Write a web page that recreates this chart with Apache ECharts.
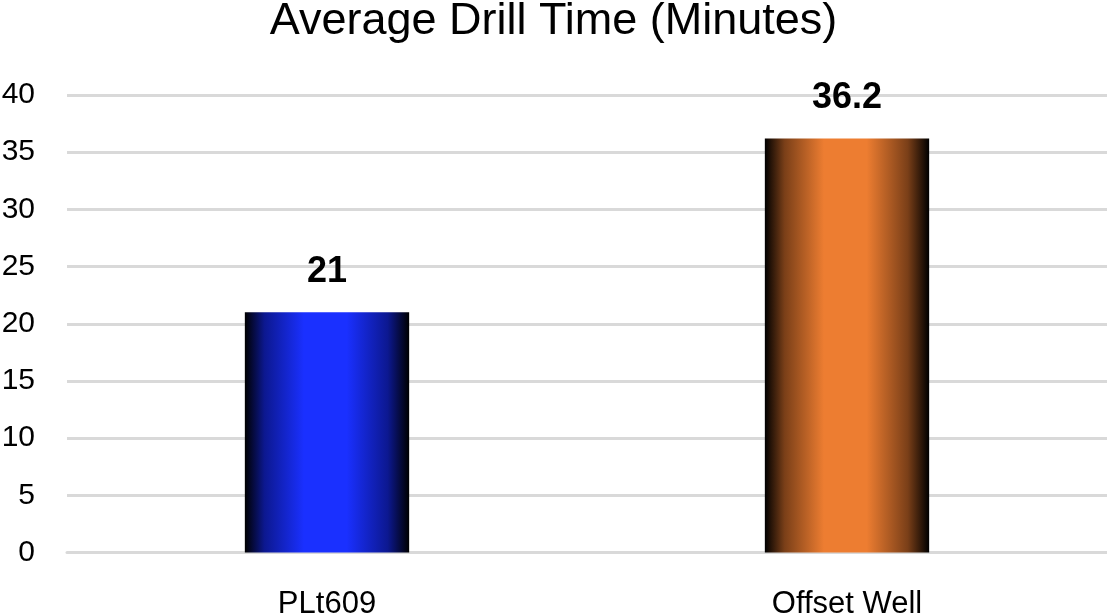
<!DOCTYPE html>
<html><head><meta charset="utf-8">
<script src="https://cdn.jsdelivr.net/npm/echarts@6/dist/echarts.min.js"></script>
<style>html,body{margin:0;padding:0;background:#fff}#c{width:1107px;height:615px}</style>
</head><body><div id="c"></div>
<script>
const categories = ['PLt609', 'Offset Well'];
const values = [21, 36.2];
const barColors = ['#1a30ff', '#ed7d31'];
const barMidColors = ['#0c1890', '#7a3f18'];
const yTicks = [0, 5, 10, 15, 20, 25, 30, 35, 40];

function grad(c, m) {
  return new echarts.graphic.LinearGradient(0, 0, 1, 0, [
    {offset: 0, color: '#000000'},
    {offset: 0.12, color: m},
    {offset: 0.36, color: c},
    {offset: 0.62, color: c},
    {offset: 0.87, color: m},
    {offset: 1, color: '#000000'}
  ]);
}
const font = '"Liberation Sans", Arial, sans-serif';
const chart = echarts.init(document.getElementById('c'));
chart.setOption({
  animation: false,
  title: {
    text: 'Average Drill Time (Minutes)',
    left: 'center', top: -6,
    textStyle: {fontFamily: font, fontSize: 45, fontWeight: 'normal', color: '#000'}
  },
  grid: {left: 67, right: 0, top: 95, bottom: 62.5, containLabel: false, outerBoundsMode: 'none'},
  xAxis: {
    type: 'category', data: categories,
    axisLine: {lineStyle: {color: '#d9d9d9', width: 3}},
    axisTick: {show: false},
    axisLabel: {fontFamily: font, fontSize: 31, color: '#000', margin: 36}
  },
  yAxis: {
    type: 'value', min: yTicks[0], max: yTicks[yTicks.length - 1], interval: 5,
    axisLine: {show: false}, axisTick: {show: false},
    splitLine: {lineStyle: {color: '#d9d9d9', width: 3}},
    axisLabel: {fontFamily: font, fontSize: 30, color: '#000', margin: 32}
  },
  series: [{
    type: 'bar',
    barWidth: '31.6%',
    data: values.map((v, i) => ({value: v, itemStyle: {color: grad(barColors[i], barMidColors[i])}})),
    label: {
      show: true, position: 'top', distance: 22,
      fontFamily: font, fontSize: 36, fontWeight: 'bold', color: '#000'
    }
  }]
});
</script></body></html>
